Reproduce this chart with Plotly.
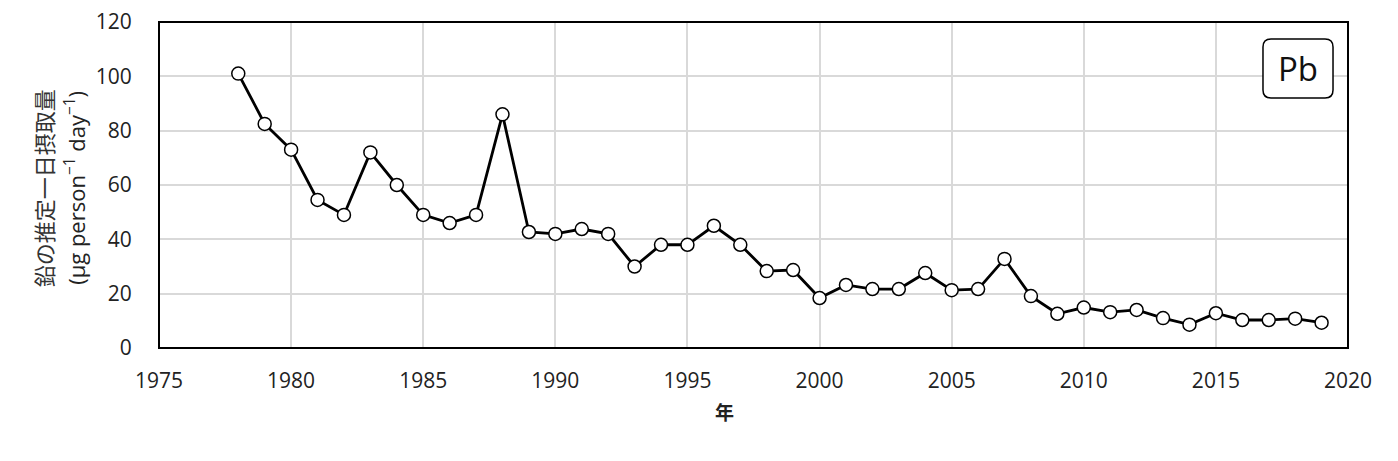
import plotly.graph_objects as go

# Estimated daily lead intake by year
years = list(range(1978, 2020))
pb_intake = [
    101, 82.5, 73, 54.5, 49, 72, 60, 49, 46, 49,
    86, 42.7, 42, 43.8, 42, 30, 38, 38, 45, 38,
    28.3, 28.7, 18.4, 23.2, 21.7, 21.7, 27.6, 21.3, 21.7, 32.8,
    19.1, 12.6, 14.9, 13.2, 14, 11, 8.6, 12.8, 10.3, 10.3,
    10.8, 9.3,
]

x_ticks = list(range(1975, 2021, 5))
y_ticks = list(range(0, 121, 20))

FONT = "Open Sans, Noto Sans CJK JP, sans-serif"
CJK = "Noto Sans CJK JP, Open Sans, sans-serif"

fig = go.Figure()

fig.add_trace(go.Scatter(
    x=years,
    y=pb_intake,
    mode="lines+markers",
    line=dict(color="black", width=2.8),
    marker=dict(size=13, color="white", line=dict(color="black", width=1.5)),
    showlegend=False,
))

axis_common = dict(
    showline=False,
    showgrid=True,
    gridcolor="#d9d9d9",
    gridwidth=1.5,
    zeroline=False,
    automargin=False,
    ticklabeloverflow="allow",
    tickfont=dict(family=FONT, size=21, color="#222222"),
)

# invisible ticks are used only to push the labels away from the frame
fig.update_xaxes(range=[1975, 2020], tickvals=x_ticks, ticks="outside",
                 ticklen=14, tickcolor="rgba(0,0,0,0)", **axis_common)
fig.update_yaxes(range=[0, 120], tickvals=y_ticks, ticks="outside",
                 ticklen=22, tickcolor="rgba(0,0,0,0)", **axis_common)

# plot frame
fig.add_shape(
    type="rect", xref="paper", yref="paper", x0=0, x1=1, y0=0, y1=1,
    line=dict(color="black", width=2), layer="above",
)

# y axis title (two rotated lines)
fig.add_annotation(
    text="鉛の推定一日摂取量",
    xref="paper", yref="paper",
    x=-0.0976, y=0.49,
    xanchor="center", yanchor="middle",
    textangle=-90,
    showarrow=False,
    font=dict(family=CJK, size=22, color="#333333"),
)
fig.add_annotation(
    text="(µg person<sup>−1</sup> day<sup>−1</sup>)",
    xref="paper", yref="paper",
    x=-0.071, y=0.49,
    xanchor="center", yanchor="middle",
    textangle=-90,
    showarrow=False,
    font=dict(family=FONT, size=22, color="#222222"),
)

# x axis title
fig.add_annotation(
    text="<b>年</b>",
    xref="paper", yref="paper",
    x=0.476, y=-0.196,
    xanchor="center", yanchor="middle",
    showarrow=False,
    font=dict(family=CJK, size=19, color="#222222"),
)

# rounded box with element label
x0, x1 = 0.9285, 0.9874
y0, y1 = 0.767, 0.948
rx, ry = 0.0067, 0.0245
box_path = (
    f"M {x0 + rx},{y0} L {x1 - rx},{y0} Q {x1},{y0} {x1},{y0 + ry} "
    f"L {x1},{y1 - ry} Q {x1},{y1} {x1 - rx},{y1} "
    f"L {x0 + rx},{y1} Q {x0},{y1} {x0},{y1 - ry} "
    f"L {x0},{y0 + ry} Q {x0},{y0} {x0 + rx},{y0} Z"
)
fig.add_shape(
    type="path", path=box_path, xref="paper", yref="paper",
    line=dict(color="black", width=1.5), fillcolor="white",
)
fig.add_annotation(
    text="Pb",
    xref="paper", yref="paper",
    x=(x0 + x1) / 2, y=(y0 + y1) / 2,
    xanchor="center", yanchor="middle",
    showarrow=False,
    font=dict(family=FONT, size=33, color="#111111"),
)

# page body adds an 8px margin, so the figure is sized to fit inside it
fig.update_layout(
    width=1382,
    height=445,
    margin=dict(l=151, r=42, t=14, b=105),
    plot_bgcolor="white",
    paper_bgcolor="white",
)

fig.write_html("out.html")
